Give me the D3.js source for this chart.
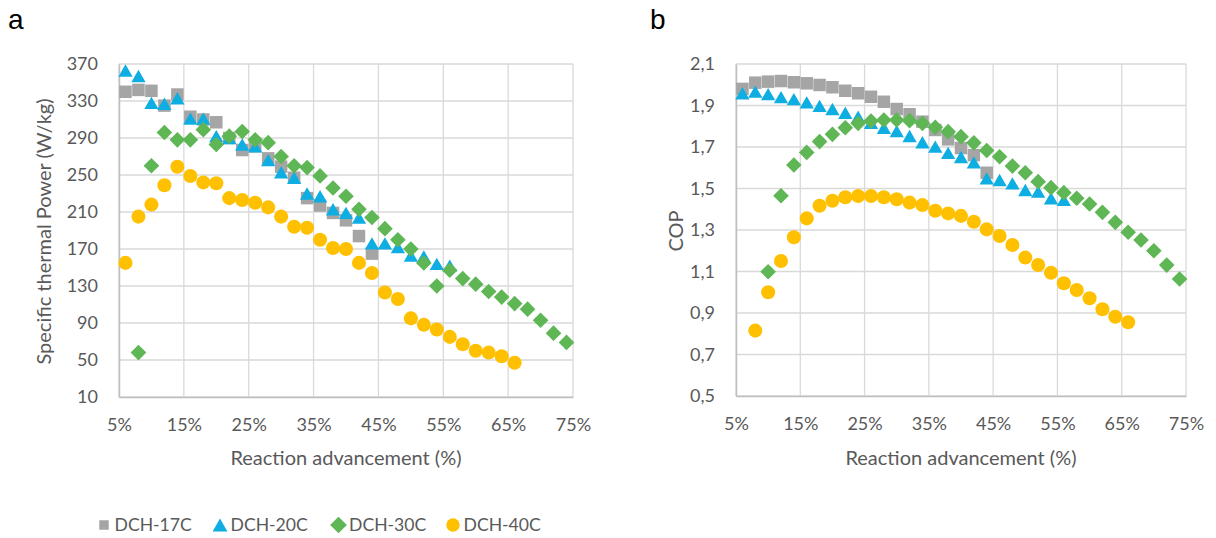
<!DOCTYPE html>
<html>
<head>
<meta charset="utf-8">
<script src="https://cdn.jsdelivr.net/npm/d3@7"></script>
<style>
  body { margin: 0; background: #fff; }
  text { font-family: "Lato", "Open Sans", sans-serif; }
</style>
</head>
<body>
<div id="chart"></div>
<script>
// Reaction advancement (%) for every series, 2% steps
let advancement = [6, 8, 10, 12, 14, 16, 18, 20, 22, 24, 26, 28, 30, 32, 34, 36, 38, 40, 42, 44,
  46, 48, 50, 52, 54, 56, 58, 60, 62, 64, 66, 68, 70, 72, 74];

// Specific thermal power (W/kg), panel a
let power17 = [340, 342, 341, 325, 337, 313, 310, 307, 290, 277, 281, 268, 259, 247, 225, 217, 209, 201, 184, 165];
let power20 = [363, 357, 328, 327, 333, 311, 311, 292, 290, 283, 281, 266, 253, 247, 230, 227, 213, 209, 204, 176,
  176, 172, 163, 162, 154, 152];
let power30 = [null, 58, 260, 296, 288, 288, 299, 283, 292, 297, 288, 285, 270, 260, 258, 249, 236, 227, 213, 204,
  192, 180, 170, 155, 130, 147, 138, 132, 124, 118, 111, 105, 93, 79, 69];
let power40 = [155, 205, 218, 239, 259, 249, 242, 241, 225, 223, 220, 215, 205, 194, 193, 180, 171, 170, 155, 144,
  123, 116, 95, 88, 83, 75, 67, 60, 58, 54, 47];

// COP, panel b
let cop17 = [1.98, 2.01, 2.015, 2.018, 2.012, 2.007, 1.999, 1.988, 1.971, 1.959, 1.942, 1.918, 1.883, 1.858, 1.822,
  1.782, 1.737, 1.695, 1.661, 1.576];
let cop20 = [1.959, 1.967, 1.955, 1.94, 1.931, 1.915, 1.898, 1.883, 1.865, 1.846, 1.817, 1.793, 1.777, 1.753, 1.723,
  1.702, 1.672, 1.652, 1.626, 1.549, 1.541, 1.525, 1.493, 1.485, 1.453, 1.445];
let cop30 = [null, null, 1.099, 1.465, 1.613, 1.674, 1.726, 1.761, 1.793, 1.814, 1.825, 1.83, 1.83, 1.827, 1.814,
  1.795, 1.774, 1.75, 1.72, 1.683, 1.653, 1.608, 1.576, 1.533, 1.504, 1.48, 1.453, 1.425, 1.385, 1.337, 1.289,
  1.252, 1.2, 1.131, 1.064];
let cop40 = [null, 0.815, 1.0, 1.151, 1.265, 1.356, 1.417, 1.441, 1.458, 1.464, 1.464, 1.458, 1.448, 1.432, 1.42,
  1.393, 1.38, 1.368, 1.34, 1.303, 1.271, 1.228, 1.167, 1.131, 1.094, 1.043, 1.011, 0.971, 0.918, 0.882, 0.855];

let seriesNames = ["DCH-17C", "DCH-20C", "DCH-30C", "DCH-40C"];
let seriesColors = ["#A5A5A5", "#0EAEE2", "#5EB655", "#FFC000"];

let xTicks = [5, 15, 25, 35, 45, 55, 65, 75];
let powerTicks = [10, 50, 90, 130, 170, 210, 250, 290, 330, 370];
let copTicks = [0.5, 0.7, 0.9, 1.1, 1.3, 1.5, 1.7, 1.9, 2.1];

// Excel style diamond: a square turned 45 degrees
let symbolDiamond45 = {
  draw: function(context, size) {
    let r = Math.sqrt(size / 2);
    context.moveTo(0, -r);
    context.lineTo(r, 0);
    context.lineTo(0, r);
    context.lineTo(-r, 0);
    context.closePath();
  }
};

// triangle centred on its bounding box
let symbolTriangleBox = {
  draw: function(context, size) {
    let s = Math.sqrt(size * 4 / Math.sqrt(3));
    let h = s * Math.sqrt(3) / 2;
    context.moveTo(0, -h / 2);
    context.lineTo(s / 2, h / 2);
    context.lineTo(-s / 2, h / 2);
    context.closePath();
  }
};

let seriesShapes = [d3.symbolSquare, symbolTriangleBox, symbolDiamond45, d3.symbolCircle];
let seriesSizes = [156, 88, 122, 155];

let svgWidth = 1216;
let svgHeight = 538;

let svg = d3.select("#chart")
  .append("svg")
  .attr("width", svgWidth)
  .attr("height", svgHeight);

// turn a value list into points paired with advancement
function toPoints(values) {
  return values
    .map((v, i) => ({ x: advancement[i], y: v }))
    .filter(d => d.y !== null && d.y !== undefined);
}

function drawPanel(opts) {
  let x = d3.scaleLinear().domain([5, 75]).range([opts.left, opts.right]);
  let y = d3.scaleLinear().domain(opts.yDomain).range([opts.bottom, opts.top]);

  let g = svg.append("g");

  // horizontal gridlines
  g.append("g")
    .selectAll("line")
    .data(opts.yTicks)
    .enter()
    .append("line")
    .attr("x1", opts.left)
    .attr("x2", opts.right)
    .attr("y1", d => y(d))
    .attr("y2", d => y(d))
    .attr("stroke", "#D9D9D9")
    .attr("stroke-width", 1.3);

  // vertical gridlines
  g.append("g")
    .selectAll("line")
    .data(xTicks)
    .enter()
    .append("line")
    .attr("x1", d => x(d))
    .attr("x2", d => x(d))
    .attr("y1", opts.top)
    .attr("y2", opts.bottom)
    .attr("stroke", "#D9D9D9")
    .attr("stroke-width", 1.3);

  // axes, no tick marks
  let bottomAxis = d3.axisBottom(x).tickValues(xTicks).tickSize(0).tickPadding(21)
    .tickFormat(d => d + "%");
  let leftAxis = d3.axisLeft(y).tickValues(opts.yTicks).tickSize(0).tickPadding(21)
    .tickFormat(opts.yFormat);

  let xAxis = g.append("g")
    .attr("transform", `translate(0, ${opts.bottom})`)
    .call(bottomAxis);
  let yAxis = g.append("g")
    .attr("transform", `translate(${opts.left}, 0)`)
    .call(leftAxis);

  [xAxis, yAxis].forEach(a => {
    a.select(".domain").attr("stroke", "#BFBFBF").attr("stroke-width", 1.5);
    a.selectAll("text").attr("fill", "#595959").style("font-size", "18px")
      .style("font-family", "Lato, sans-serif");
  });

  // markers
  opts.series.forEach((values, i) => {
    g.append("g")
      .selectAll("path")
      .data(toPoints(values))
      .enter()
      .append("path")
      .attr("transform", d => `translate(${x(d.x)}, ${y(d.y)})`)
      .attr("d", d3.symbol().type(seriesShapes[i]).size(seriesSizes[i]))
      .attr("fill", seriesColors[i]);
  });

  // axis titles
  g.append("text")
    .attr("x", (opts.left + opts.right) / 2)
    .attr("y", 465)
    .attr("text-anchor", "middle")
    .attr("fill", "#595959")
    .style("font-size", "20px")
    .text("Reaction advancement (%)");

  g.append("text")
    .attr("transform", `translate(${opts.yTitleX}, ${(opts.top + opts.bottom) / 2 + 1}) rotate(-90)`)
    .attr("text-anchor", "middle")
    .attr("fill", "#595959")
    .style("font-size", "20px")
    .text(opts.yTitle);

  // panel letter
  svg.append("text")
    .attr("x", opts.letterX)
    .attr("y", 29)
    .attr("fill", "#000")
    .style("font-size", "28px")
    .style("font-family", "Liberation Sans, Arial, sans-serif")
    .text(opts.letter);
}

drawPanel({
  left: 119, right: 573, top: 64, bottom: 397,
  yDomain: [10, 370], yTicks: powerTicks, yFormat: d => d,
  series: [power17, power20, power30, power40],
  yTitle: "Specific thermal Power (W/kg)", yTitleX: 50.5,
  letter: "a", letterX: 8
});

drawPanel({
  left: 736, right: 1186, top: 64, bottom: 396,
  yDomain: [0.5, 2.1], yTicks: copTicks, yFormat: d => d3.format(".1f")(d).replace(".", ","),
  series: [cop17, cop20, cop30, cop40],
  yTitle: "COP", yTitleX: 683,
  letter: "b", letterX: 650
});

// legend along the bottom
let legendX = [104, 220, 338.5, 453];
let legendSizes = [90, 95, 140, 140];
let legend = svg.append("g");
seriesNames.forEach((name, i) => {
  legend.append("path")
    .attr("transform", `translate(${legendX[i]}, 525)`)
    .attr("d", d3.symbol().type(seriesShapes[i]).size(legendSizes[i]))
    .attr("fill", seriesColors[i]);
  legend.append("text")
    .attr("x", legendX[i] + 10.5)
    .attr("y", 531)
    .attr("fill", "#595959")
    .style("font-size", "17.6px")
    .text(name);
});
</script>
</body>
</html>
